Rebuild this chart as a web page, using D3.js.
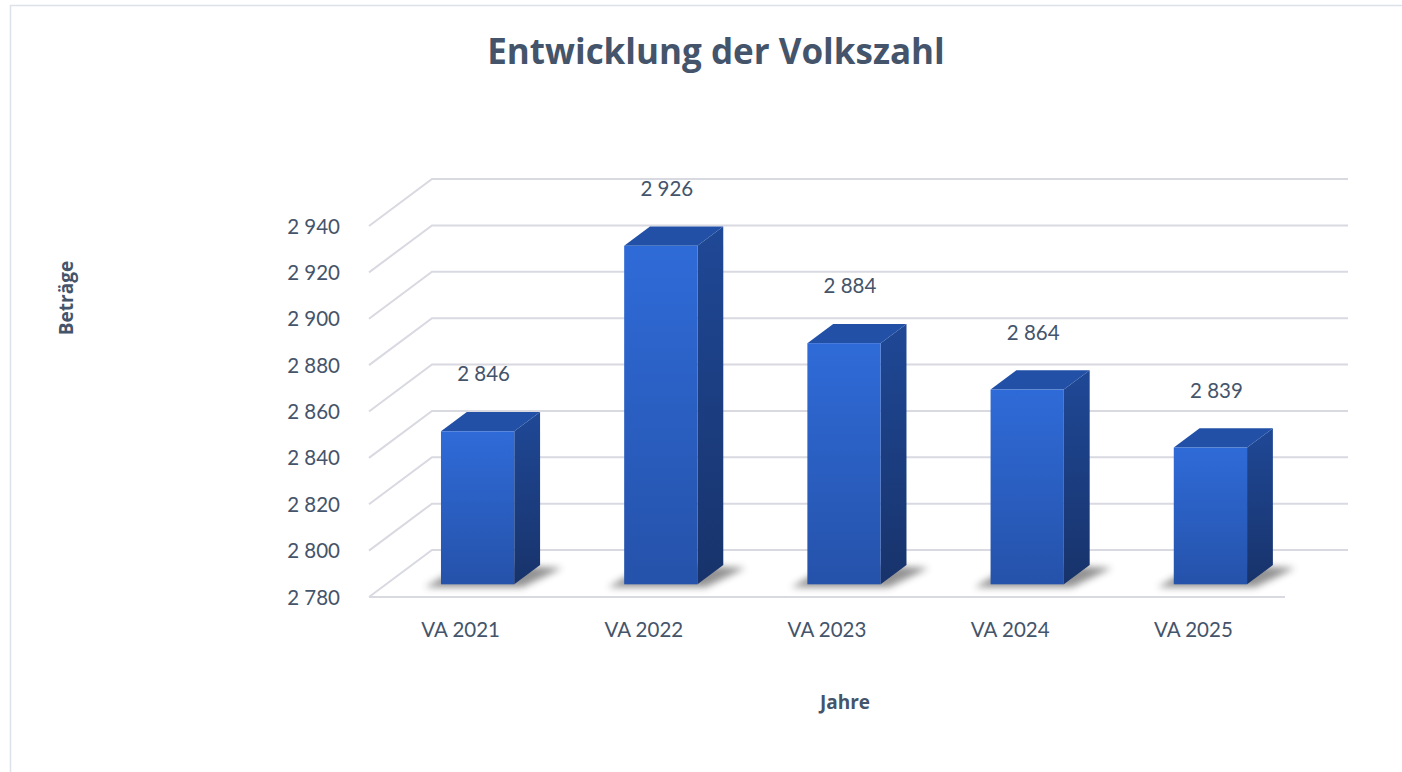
<!DOCTYPE html>
<html>
<head>
<meta charset="utf-8">
<script src="https://d3js.org/d3.v7.min.js"></script>
<style>
  body { margin: 0; background: #fff; }
  text { font-family: Lato, "Open Sans", sans-serif; fill: #44546a; }
  .bold { font-family: "Open Sans", Lato, sans-serif; font-weight: bold; }
</style>
</head>
<body>
<div id="chart"></div>
<script>
// data
var categories = ["VA 2021", "VA 2022", "VA 2023", "VA 2024", "VA 2025"];
var values = [2846, 2926, 2884, 2864, 2839];
var yTicks = [2780, 2800, 2820, 2840, 2860, 2880, 2900, 2920, 2940];

var W = 1402, H = 772;
// 3d box: front floor and depth offset
var front = {left: 369, right: 1285, bottom: 597, top: 226};
var depth = {dx: 63, dy: -47};
var barFront = 0.27, barBack = 0.68; // depth fractions of the bars

var svg = d3.select("#chart").append("svg")
    .attr("width", W).attr("height", H);

var defs = svg.append("defs");
var g1 = defs.append("linearGradient").attr("id", "gFront")
    .attr("x1", 0).attr("y1", 0).attr("x2", 0).attr("y2", 1);
g1.append("stop").attr("offset", "0%").attr("stop-color", "#2f6bd8");
g1.append("stop").attr("offset", "100%").attr("stop-color", "#2552aa");
var g2 = defs.append("linearGradient").attr("id", "gSide")
    .attr("x1", 0).attr("y1", 0).attr("x2", 0).attr("y2", 1);
g2.append("stop").attr("offset", "0%").attr("stop-color", "#1f4896");
g2.append("stop").attr("offset", "100%").attr("stop-color", "#18336b");
defs.append("filter").attr("id", "blur")
    .attr("x", "-50%").attr("y", "-50%").attr("width", "200%").attr("height", "200%")
  .append("feGaussianBlur").attr("stdDeviation", 3.5);

// outer border
svg.append("rect")
    .attr("x", 10.5).attr("y", 5.5)
    .attr("width", W + 20).attr("height", H + 20)
    .attr("fill", "none").attr("stroke", "#dde2ea").attr("stroke-width", 1.5);

var x = d3.scaleBand()
    .domain(categories)
    .range([front.left, front.right])
    .paddingInner(0).paddingOuter(0);

var y = d3.scaleLinear()
    .domain([2780, 2940])
    .range([front.bottom, front.top]);

// gridlines: side wall diagonal + back wall horizontal
var grid = svg.append("g").attr("stroke", "#d9d9e2").attr("stroke-width", 2).attr("fill", "none");
yTicks.forEach(function(t) {
  var yy = y(t);
  grid.append("path")
    .attr("d", "M" + front.left + "," + yy +
               "L" + (front.left + depth.dx) + "," + (yy + depth.dy) +
               "L" + (front.right + depth.dx) + "," + (yy + depth.dy));
});
// front floor line
svg.append("line")
    .attr("x1", front.left).attr("x2", front.right)
    .attr("y1", front.bottom).attr("y2", front.bottom)
    .attr("stroke", "#d9d9e2").attr("stroke-width", 2);

// tick labels
svg.append("g").selectAll("text")
  .data(yTicks)
  .enter().append("text")
    .attr("x", 340)
    .attr("y", function(d) { return y(d) + 7.5; })
    .attr("text-anchor", "end")
    .style("font-size", "20.5px")
    .text(function(d) { return d3.format(",")(d).replace(",", " "); });

// bars
var bw = x.bandwidth() * 0.4;
var fdx = depth.dx * barFront, fdy = depth.dy * barFront;
var bdx = depth.dx * barBack, bdy = depth.dy * barBack;

var bars = svg.append("g").selectAll("g")
  .data(values)
  .enter().append("g");

bars.each(function(v, i) {
  var gg = d3.select(this);
  var xl = x(categories[i]) + (x.bandwidth() - bw) / 2 + fdx;
  var xr = xl + bw;
  var yb = front.bottom + fdy;
  var yt = y(v) + fdy;
  var sx = bdx - fdx, sy = bdy - fdy;
  // floor shadow
  gg.append("polygon")
    .attr("points", [[xl - 16, yb + 3], [xr + 8, yb + 3], [xr + sx + 22, yb + sy + 3], [xl + sx, yb + sy - 2]].join(" "))
    .attr("fill", "#3a3a3a").attr("opacity", 0.55)
    .attr("filter", "url(#blur)");
  // side
  gg.append("polygon")
    .attr("points", [[xr, yt], [xr + sx, yt + sy], [xr + sx, yb + sy], [xr, yb]].join(" "))
    .attr("fill", "url(#gSide)");
  // top
  gg.append("polygon")
    .attr("points", [[xl, yt], [xr, yt], [xr + sx, yt + sy], [xl + sx, yt + sy]].join(" "))
    .attr("fill", "#2150a6");
  // front
  gg.append("rect")
    .attr("x", xl).attr("y", yt)
    .attr("width", bw).attr("height", yb - yt)
    .attr("fill", "url(#gFront)");
  // value label
  gg.append("text")
    .attr("x", xl + bw / 2 + 6)
    .attr("y", yt - 50)
    .attr("text-anchor", "middle")
    .style("font-size", "20.5px")
    .text(d3.format(",")(v).replace(",", " "));
});

// category labels
svg.append("g").selectAll("text")
  .data(categories)
  .enter().append("text")
    .attr("x", function(d) { return x(d) + x.bandwidth() / 2; })
    .attr("y", 637)
    .attr("text-anchor", "middle")
    .style("font-size", "20.5px")
    .text(function(d) { return d; });

// titles
svg.append("text")
    .attr("class", "bold")
    .attr("x", 716).attr("y", 64)
    .attr("text-anchor", "middle")
    .style("font-size", "35px")
    .text("Entwicklung der Volkszahl");

svg.append("text")
    .attr("class", "bold")
    .attr("x", 845).attr("y", 709)
    .attr("text-anchor", "middle")
    .style("font-size", "19px")
    .text("Jahre");

svg.append("text")
    .attr("class", "bold")
    .attr("transform", "translate(73,298) rotate(-90)")
    .attr("text-anchor", "middle")
    .style("font-size", "19px")
    .text("Beträge");
</script>
</body>
</html>
